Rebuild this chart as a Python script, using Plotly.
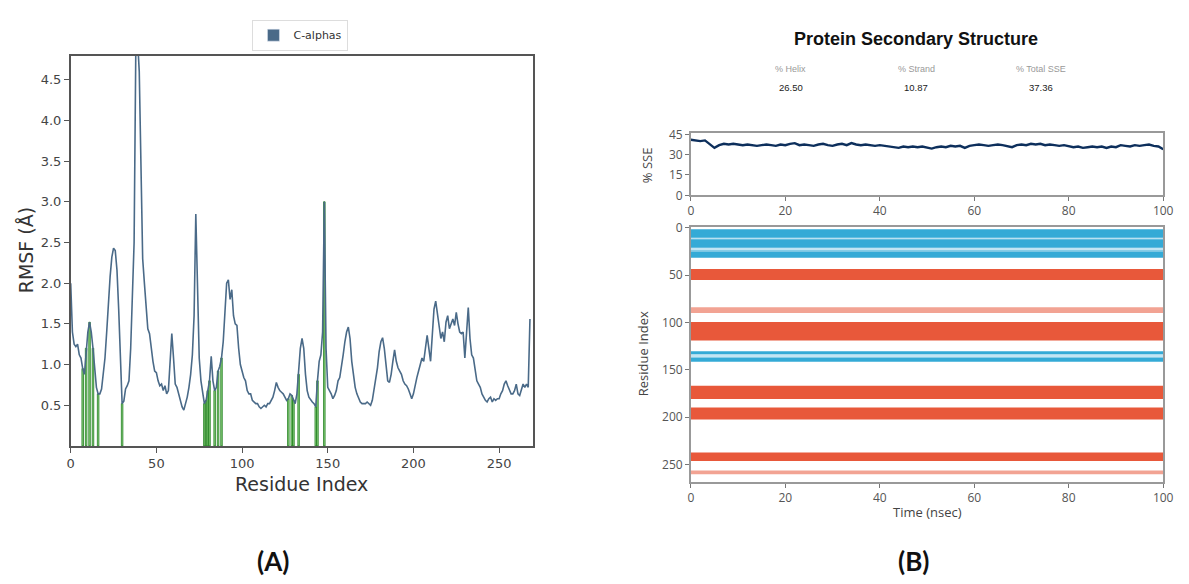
import plotly.graph_objects as go

W, H = 1189, 584

# ---------------- Panel A data: C-alpha RMSF per residue ----------------
rmsf = [
    2.0, 1.4, 1.25, 1.22, 1.25, 1.12, 1.08, 0.95, 0.88, 1.2,      # 0-9
    1.4, 1.52, 1.4, 1.2, 0.92, 0.72, 0.64, 0.64, 0.7, 0.88,       # 10-19
    1.08, 1.4, 1.76, 2.08, 2.32, 2.43, 2.4, 2.16, 1.68, 1.0,      # 20-29
    0.52, 0.55, 0.7, 0.74, 0.8, 1.2, 1.8, 2.5, 4.9, 5.0,          # 30-39
    4.6, 3.3, 2.3, 2.0, 1.68, 1.44, 1.38, 1.2, 1.04, 0.92,        # 40-49
    0.9, 0.8, 0.74, 0.76, 0.68, 0.74, 0.64, 0.68, 1.08, 1.38,     # 50-59
    1.08, 0.76, 0.72, 0.64, 0.56, 0.48, 0.44, 0.52, 0.6, 0.72,    # 60-69
    0.88, 1.12, 1.6, 2.85, 1.8, 1.08, 0.8, 0.64, 0.52, 0.56,      # 70-79
    0.68, 0.8, 1.1, 0.8, 0.68, 0.72, 0.92, 0.98, 1.08, 1.28,      # 80-89
    1.64, 2.0, 2.04, 1.8, 1.92, 1.6, 1.5, 1.48, 1.2, 1.0,         # 90-99
    0.92, 0.84, 0.8, 0.68, 0.64, 0.64, 0.56, 0.54, 0.52, 0.52,    # 100-109
    0.48, 0.46, 0.48, 0.5, 0.48, 0.52, 0.52, 0.56, 0.6, 0.68,     # 110-119
    0.78, 0.72, 0.68, 0.66, 0.64, 0.6, 0.56, 0.58, 0.64, 0.62,    # 120-129
    0.56, 0.52, 0.64, 0.88, 1.2, 1.32, 1.2, 0.88, 0.68, 0.6,      # 130-139
    0.56, 0.54, 0.52, 0.48, 0.8, 1.04, 1.12, 1.4, 3.0, 1.2,       # 140-149
    0.72, 0.68, 0.64, 0.58, 0.62, 0.68, 0.8, 0.84, 0.96, 1.12,    # 150-159
    1.28, 1.4, 1.46, 1.32, 1.04, 0.84, 0.72, 0.64, 0.58, 0.54,    # 160-169
    0.52, 0.52, 0.52, 0.54, 0.52, 0.5, 0.56, 0.68, 0.84, 0.96,    # 170-179
    1.16, 1.28, 1.33, 1.2, 1.0, 0.8, 0.78, 0.88, 1.04, 1.18,      # 180-189
    1.04, 0.96, 0.92, 0.88, 0.8, 0.76, 0.74, 0.7, 0.64, 0.58,     # 190-199
    0.64, 0.76, 0.84, 0.92, 1.0, 1.08, 1.04, 1.2, 1.36, 1.2,      # 200-209
    1.04, 1.36, 1.68, 1.78, 1.6, 1.44, 1.32, 1.4, 1.28, 1.52,     # 210-219
    1.6, 1.44, 1.5, 1.56, 1.48, 1.64, 1.5, 1.4, 1.38, 1.4,        # 220-229
    1.08, 1.44, 1.7, 1.32, 1.12, 1.08, 0.96, 0.8, 0.76, 0.72,     # 230-239
    0.64, 0.6, 0.56, 0.54, 0.58, 0.6, 0.54, 0.58, 0.56, 0.58,     # 240-249
    0.58, 0.64, 0.68, 0.76, 0.8, 0.74, 0.68, 0.64, 0.64, 0.68,    # 250-259
    0.76, 0.64, 0.62, 0.7, 0.76, 0.72, 0.76, 0.72, 1.56,          # 260-268
]
residues = list(range(len(rmsf)))
contact_residues = [7, 9, 11, 13, 16, 30, 78, 79, 80, 81, 84, 86, 88,
                    127, 129, 130, 133, 143, 144, 148]
contact_heights = [rmsf[r] for r in contact_residues]
rmsf_yticks = [0.5, 1.0, 1.5, 2.0, 2.5, 3.0, 3.5, 4.0, 4.5]
res_xticks = [0, 50, 100, 150, 200, 250]

# ---------------- Panel B data ----------------
stat_names = ["% Helix", "% Strand", "% Total SSE"]
stat_values = ["26.50", "10.87", "37.36"]

time_ns = list(range(0, 101))
sse_pct = [
    41, 40.5, 40, 40.5, 38, 35, 37, 38, 37.5, 38,
    37.5, 37, 37.5, 37, 36.5, 37, 37.5, 37, 36.5, 37.5,
    37, 38, 38.5, 37, 37.5, 37, 36.5, 37.5, 38, 37,
    36.5, 37.5, 38, 37, 38.5, 37.5, 37, 37.5, 37, 36.5,
    37, 36.5, 36, 35.5, 35, 36, 35.5, 36, 35.5, 36,
    35, 34.5, 35.5, 36, 35.5, 36.5, 36, 36.5, 35, 36.5,
    37, 37.5, 37, 36.5, 37, 37.5, 37, 36.5, 35.5, 37,
    37.5, 37, 38, 37.5, 38, 37, 37.5, 37, 36.5, 37,
    36, 35.5, 36, 35, 35.5, 36, 35.5, 36, 35, 36,
    35.5, 37, 36.5, 36, 37, 36.5, 37, 37.5, 36.5, 36, 34,
]
sse_yticks = [0, 15, 30, 45]
time_xticks = [0, 20, 40, 60, 80, 100]
ssr_yticks = [0, 50, 100, 150, 200, 250]

# secondary-structure segments: (start residue, end residue, occupancy)
strand_segments = [(1.5, 10.5, 1.0), (10.5, 12.0, 0.35), (12.0, 21.0, 1.0),
                   (21.0, 23.5, 0.3), (23.5, 25.0, 0.6), (25.0, 31.5, 1.0),
                   (130.5, 133.5, 1.0), (133.5, 137.0, 0.3), (137.0, 141.5, 1.0)]
helix_segments = [(43.5, 55.0, 1.0), (84.0, 90.0, 0.55), (99.5, 119.0, 1.0),
                  (167.0, 181.0, 1.0), (190.0, 202.5, 1.0), (237.5, 246.5, 1.0),
                  (256.5, 260.5, 0.55)]


def px(x):
    return x / W


def py(y):
    return 1 - y / H


def rgba(rgb, a):
    return "rgba(%d,%d,%d,%.2f)" % (rgb[0], rgb[1], rgb[2], a)


fig = go.Figure()

# Panel A
fig.add_trace(go.Bar(
    x=contact_residues, y=contact_heights, width=0.9,
    marker=dict(color="rgba(120,205,100,0.8)", line=dict(color="#1f7d1f", width=0.8)),
    xaxis="x", yaxis="y", showlegend=False, hoverinfo="skip"))
fig.add_trace(go.Scatter(
    x=residues, y=rmsf, mode="lines", line=dict(color="#4a6a88", width=1.6),
    xaxis="x", yaxis="y", showlegend=False))
fig.add_trace(go.Bar(
    x=[None], y=[None], name="C-alphas", marker=dict(color="#4a6a88"),
    xaxis="x", yaxis="y", showlegend=True))

# Panel B top: %SSE vs time
fig.add_trace(go.Scatter(
    x=time_ns, y=sse_pct, mode="lines", line=dict(color="#0d2f5c", width=2.4),
    xaxis="x2", yaxis="y2", showlegend=False))

# Panel B bottom: secondary structure per residue over time
seg_y, seg_w, seg_c = [], [], []
for s, e, occ in strand_segments:
    seg_y.append((s + e) / 2)
    seg_w.append(e - s)
    seg_c.append(rgba((52, 170, 214), occ))
for s, e, occ in helix_segments:
    seg_y.append((s + e) / 2)
    seg_w.append(e - s)
    seg_c.append(rgba((232, 88, 58), occ))
fig.add_trace(go.Bar(
    y=seg_y, x=[time_xticks[-1]] * len(seg_y), width=seg_w, base=0,
    orientation="h", marker=dict(color=seg_c, line=dict(width=0)),
    xaxis="x3", yaxis="y3", showlegend=False))

tickA = dict(family="DejaVu Sans", size=13, color="#444")
tickB = dict(family="Open Sans", size=12, color="#555")
axA = dict(showline=True, mirror=True, linecolor="#555", linewidth=1.5,
           ticks="outside", ticklen=5, tickcolor="#555", showgrid=False,
           zeroline=False, tickfont=tickA)
axB = dict(showline=True, mirror=True, linecolor="#999", linewidth=1.5,
           ticks="outside", ticklen=4, tickcolor="#777", showgrid=False,
           zeroline=False, tickfont=tickB)

fig.update_layout(
    width=W, height=H, margin=dict(l=0, r=0, t=0, b=0),
    paper_bgcolor="white", plot_bgcolor="white", barmode="overlay",
    xaxis=dict(axA, domain=[px(67.5), px(535)], range=[0, 269.6],
               tickvals=res_xticks, anchor="y"),
    yaxis=dict(axA, domain=[py(450.5), py(50)], range=[0, 4.795],
               tickvals=rmsf_yticks, tickformat=".1f", anchor="x"),
    xaxis2=dict(axB, domain=[px(695), px(1173)], range=[0, 100],
                tickvals=time_xticks, anchor="y2"),
    yaxis2=dict(axB, domain=[py(193.3), py(129)], range=[0, 46.2],
                tickvals=sse_yticks, anchor="x2"),
    xaxis3=dict(axB, domain=[px(695), px(1173)], range=[0, 100],
                tickvals=time_xticks, anchor="y3"),
    yaxis3=dict(axB, domain=[py(487.7), py(225.3)], range=[268.8, -1.4],
                tickvals=ssr_yticks, anchor="x3"),
    legend=dict(x=px(300), y=py(13), xanchor="center", yanchor="top",
                bgcolor="white", bordercolor="#ddd", borderwidth=1,
                font=dict(family="DejaVu Sans", size=11, color="#333"),
                itemwidth=30, tracegroupgap=0),
)

ann = []


def add_text(x, y, text, size, color="#222", family="DejaVu Sans", bold=False, angle=0):
    t = "<b>%s</b>" % text if bold else text
    ann.append(dict(x=px(x), y=py(y), xref="paper", yref="paper", text=t,
                    showarrow=False, xanchor="center", yanchor="middle",
                    textangle=angle, font=dict(family=family, size=size, color=color)))


add_text(22, 250, "RMSF (Å)", 19, "#333", angle=-90)
add_text(301, 490, "Residue Index", 19, "#333")
add_text(923, 33, "Protein Secondary Structure", 18, "#111", "Liberation Sans", bold=True)
for xc, nm, val in zip([796, 923, 1049], stat_names, stat_values):
    add_text(xc, 64, nm, 9, "#999", "Liberation Sans")
    add_text(xc, 83, val, 9.5, "#222", "Liberation Sans")
add_text(650, 162, "% SSE", 13, "#444", "Open Sans", angle=-90)
add_text(646, 356, "Residue Index", 13, "#444", "Open Sans", angle=-90)
add_text(934, 518, "Time (nsec)", 13, "#444", "Open Sans")
add_text(272, 569, "(A)", 26, "#111", "Lato", bold=True)
add_text(920, 569, "(B)", 26, "#111", "Lato", bold=True)
fig.update_layout(annotations=ann)

fig.write_html("out.html")
